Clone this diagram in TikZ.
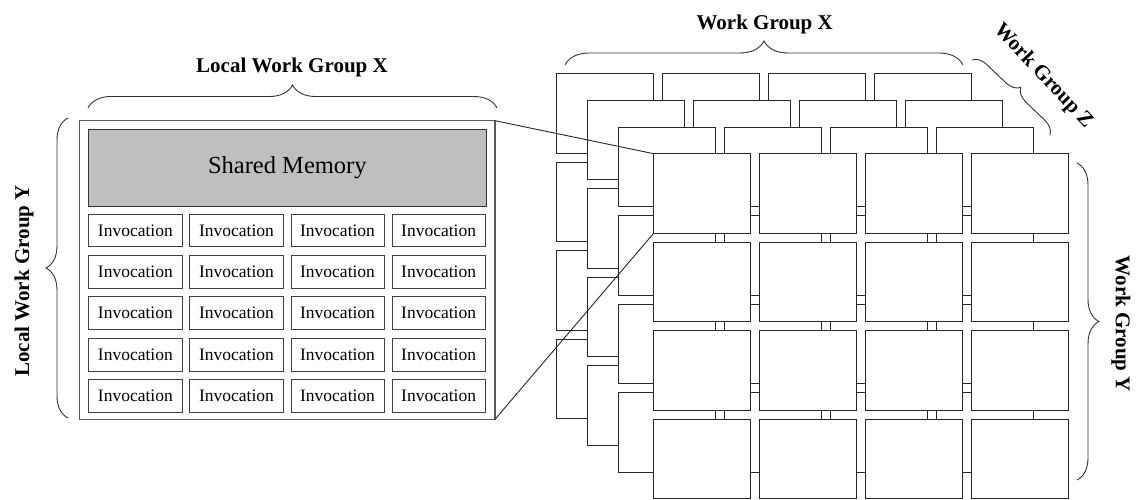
\documentclass[tikz,border=0pt]{standalone}
\usepackage{fontspec}
\setmainfont{Liberation Serif}
\usetikzlibrary{decorations.pathreplacing}

\begin{document}
\begin{tikzpicture}[x=1pt, y=-1pt,
    wgbox/.style={draw=black!85, fill=white, line width=0.9pt, minimum width=97pt, minimum height=79.5pt, inner sep=0, outer sep=0, anchor=north west},
    inv/.style={draw=black!75, line width=0.8pt, minimum width=93.3pt, minimum height=32.7pt, inner sep=0, outer sep=0, anchor=north west, font=\fontsize{17.5}{20}\selectfont},
    ttl/.style={font=\fontsize{21}{25}\selectfont\bfseries},
    brc/.style={decorate, decoration={brace, amplitude=#1}, draw=black!80, line width=0.9pt},
    brc/.default=23pt
  ]
  \useasboundingbox (0,0) rectangle (1137,500);

  % work group layers, back to front
  \foreach \l/\xo/\yo in {0/556.3/73.7, 1/587/100.3, 2/618/127, 3/653.7/153.7}
    \foreach \r in {1,...,4}
      \foreach \c in {1,...,4}
        \node[wgbox] (L\l-\r-\c) at ({\xo+106*(\c-1)}, {\yo+88.5*(\r-1)}) {};

  % local work group
  \node[draw=black!65, line width=1.3pt, minimum width=415.7pt, minimum height=298.6pt, inner sep=0, outer sep=0, anchor=north west] (lwg) at (79.3,120.7) {};
  \node[draw=black!80, fill=black!25, line width=0.9pt, minimum width=397.3pt, minimum height=76.7pt, inner sep=0, outer sep=0, anchor=north west, font=\fontsize{24.5}{28}\selectfont] (shm) at (88.7,129.3) {Shared Memory};
  \foreach \r in {1,...,5}
    \foreach \c in {1,...,4}
      \node[inv] (inv-\r-\c) at ({88.7+101.1*(\c-1)}, {214+41.4*(\r-1)}) {Invocation};

  \draw[line width=0.9pt, black!85] (lwg.north east) -- (L3-1-1.north west);
  \draw[line width=0.9pt, black!85] (lwg.south east) -- (L3-1-1.south west);

  % braces
  \draw[brc] (88,108) -- (497,108);
  \draw[brc=24pt] (565,65) -- (963,65);
  \draw[brc=22pt] (1077,163) -- (1077,480);
  \draw[brc=22pt] (68,418) -- (68,118);
  \draw[brc=14pt] (972,60) -- (1050,135);

  \node[ttl, anchor=base] (lwgx) at (292,73) {Local Work Group X};
  \node[ttl, anchor=base] (wgx) at (764.7,29.3) {Work Group X};
  \node[ttl, rotate=90] (lwgy) at (24,281) {Local Work Group Y};
  \node[ttl, rotate=-90] (wgy) at (1121,324) {Work Group Y};
  \node[ttl, rotate=-47] (wgz) at (1043,76) {Work Group Z};
\end{tikzpicture}
\end{document}
